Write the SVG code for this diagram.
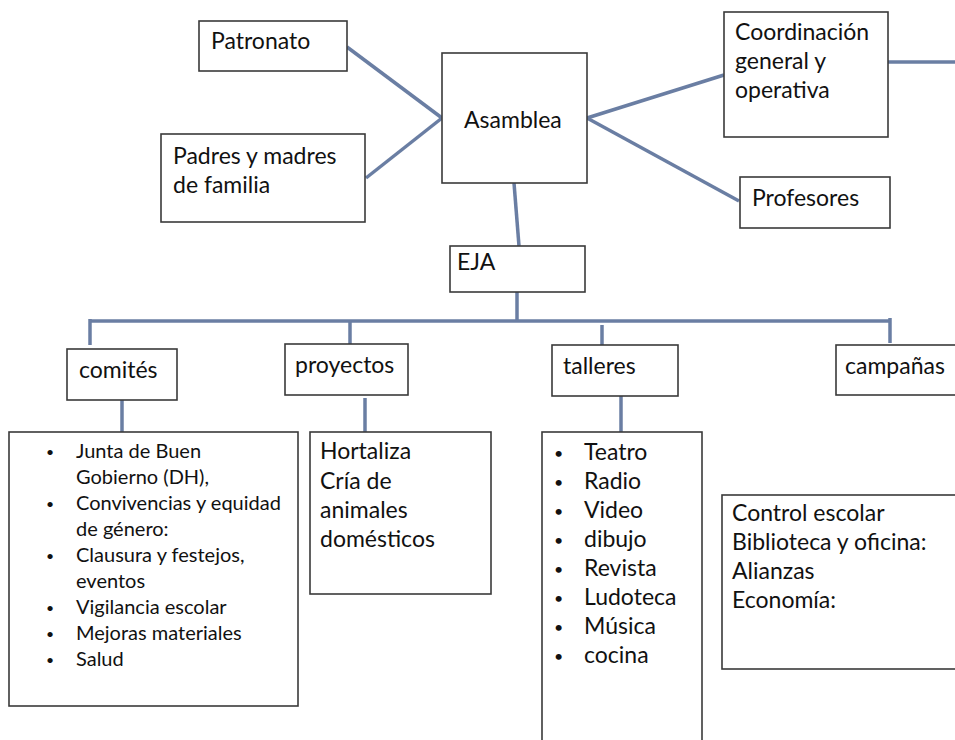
<svg xmlns="http://www.w3.org/2000/svg" width="955" height="740" viewBox="0 0 955 740">
<style>
.box{fill:#fff;stroke:#3a3a3a;stroke-width:1.6}
.t{font-family:Lato,"Liberation Sans",sans-serif;font-size:23px;fill:#111}
.s{font-family:Lato,"Liberation Sans",sans-serif;font-size:20px;fill:#111}
.b{font-size:16px}
.bs{font-size:14px}
.c{stroke:#6a7ea3;stroke-width:3.5;fill:none;stroke-linecap:butt}
</style>
<rect width="955" height="740" fill="#fff"/>
<g id="connectors">
<line class="c" x1="347" y1="47" x2="442" y2="118"/>
<line class="c" x1="366" y1="178" x2="442" y2="118"/>
<line class="c" x1="587" y1="118" x2="724" y2="75"/>
<line class="c" x1="587" y1="118" x2="739" y2="201"/>
<line class="c" x1="888" y1="62" x2="955" y2="62"/>
<line class="c" x1="514" y1="183" x2="519" y2="246"/>
<line class="c" x1="517" y1="292" x2="517" y2="321"/>
<line class="c" x1="90" y1="321" x2="890" y2="321"/>
<line class="c" x1="90" y1="319" x2="90" y2="345"/>
<line class="c" x1="350" y1="321" x2="350" y2="344"/>
<line class="c" x1="602" y1="325" x2="602" y2="346"/>
<line class="c" x1="890" y1="318" x2="890" y2="343"/>
<line class="c" x1="122" y1="400" x2="122" y2="432"/>
<line class="c" x1="365" y1="398" x2="365" y2="432"/>
<line class="c" x1="621" y1="396" x2="621" y2="432"/>
</g>
<g id="patronato"><rect class="box" x="199" y="21" width="148" height="50"/><text class="t" x="211" y="49">Patronato</text></g>
<g id="asamblea"><rect class="box" x="442" y="53" width="145" height="130"/><text class="t" x="464" y="128">Asamblea</text></g>
<g id="padres"><rect class="box" x="161" y="134" width="204" height="88"/><text class="t" x="173" y="164">Padres y madres</text><text class="t" x="173" y="193">de familia</text></g>
<g id="coordinacion"><rect class="box" x="724" y="12" width="164" height="125"/><text class="t" x="735" y="40">Coordinación</text><text class="t" x="735" y="69">general y</text><text class="t" x="735" y="98">operativa</text></g>
<g id="profesores"><rect class="box" x="740" y="177" width="150" height="51"/><text class="t" x="752" y="206">Profesores</text></g>
<g id="eja"><rect class="box" x="450" y="246" width="135" height="46"/><text class="t" x="457" y="270">EJA</text></g>
<g id="comites"><rect class="box" x="67" y="349" width="110" height="51"/><text class="t" x="79" y="378">comités</text></g>
<g id="proyectos"><rect class="box" x="285" y="344" width="123" height="51"/><text class="t" x="295" y="373">proyectos</text></g>
<g id="talleres"><rect class="box" x="552" y="345" width="126" height="51"/><text class="t" x="563" y="374">talleres</text></g>
<g id="campanas"><rect class="box" x="836" y="345" width="130" height="50"/><text class="t" x="845" y="374">campañas</text></g>
<g id="comites-list"><rect class="box" x="9" y="432" width="289" height="274"/>
<g class="s">
<text class="bs" x="46" y="457">•</text><text x="76" y="458">Junta de Buen</text>
<text x="76" y="484">Gobierno (DH),</text>
<text class="bs" x="46" y="509">•</text><text x="76" y="510">Convivencias y equidad</text>
<text x="76" y="536">de género:</text>
<text class="bs" x="46" y="561">•</text><text x="76" y="562">Clausura y festejos,</text>
<text x="76" y="588">eventos</text>
<text class="bs" x="46" y="613">•</text><text x="76" y="614">Vigilancia escolar</text>
<text class="bs" x="46" y="639">•</text><text x="76" y="640">Mejoras materiales</text>
<text class="bs" x="46" y="665">•</text><text x="76" y="666">Salud</text>
</g></g>
<g id="proyectos-list"><rect class="box" x="310" y="432" width="181" height="162"/>
<g class="t"><text x="320" y="459">Hortaliza</text><text x="320" y="489">Cría de</text><text x="320" y="518">animales</text><text x="320" y="547">domésticos</text></g></g>
<g id="talleres-list"><rect class="box" x="542" y="432" width="160" height="320"/>
<g class="t">
<text class="b" x="554" y="459">•</text><text x="584" y="460">Teatro</text>
<text class="b" x="554" y="488">•</text><text x="584" y="489">Radio</text>
<text class="b" x="554" y="517">•</text><text x="584" y="518">Video</text>
<text class="b" x="554" y="546">•</text><text x="584" y="547">dibujo</text>
<text class="b" x="554" y="575">•</text><text x="584" y="576">Revista</text>
<text class="b" x="554" y="604">•</text><text x="584" y="605">Ludoteca</text>
<text class="b" x="554" y="633">•</text><text x="584" y="634">Música</text>
<text class="b" x="554" y="662">•</text><text x="584" y="663">cocina</text>
</g></g>
<g id="campanas-list"><rect class="box" x="722" y="495" width="240" height="174"/>
<g class="t"><text x="732" y="521">Control escolar</text><text x="732" y="550">Biblioteca y oficina:</text><text x="732" y="579">Alianzas</text><text x="732" y="608">Economía:</text></g></g>
</svg>
